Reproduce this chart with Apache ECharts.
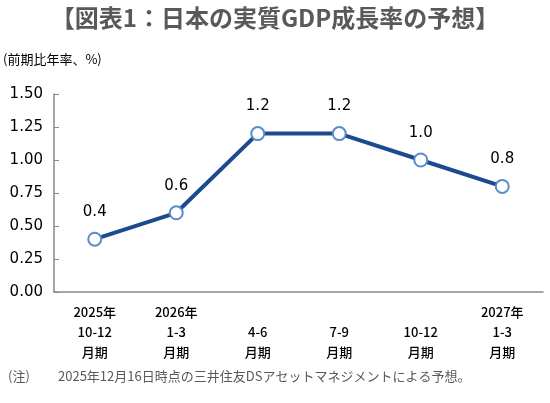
<!DOCTYPE html>
<html>
<head>
<meta charset="utf-8">
<script src="https://cdn.jsdelivr.net/npm/echarts@6/dist/echarts.min.js"></script>
<style>
html,body{margin:0;padding:0;background:#fff;}
#chart{width:550px;height:403px;}
</style>
</head>
<body>
<div id="chart"></div>
<script>
const years = ['2025年', '2026年', '', '', '', '2027年'];
const quarters = ['10-12', '1-3', '4-6', '7-9', '10-12', '1-3'];
const suffix = '月期';
const growth = [0.4, 0.6, 1.2, 1.2, 1.0, 0.8];
const yTicks = [0, 0.25, 0.5, 0.75, 1.0, 1.25, 1.5];

const FONT = '"DejaVu Sans", "Noto Sans CJK JP", sans-serif';
const JFONT = '"Noto Sans CJK JP", sans-serif';
const categories = years.map((y, i) => (y || ' ') + '\n' + quarters[i] + '\n' + suffix);

const chart = echarts.init(document.getElementById('chart'));
chart.setOption({
  animation: false,
  backgroundColor: '#fff',
  title: {
    text: '【図表1：日本の実質GDP成長率の予想】',
    left: 'center',
    top: 1,
    textStyle: { fontFamily: JFONT, fontSize: 24, fontWeight: 'bold', color: '#595959' }
  },
  graphic: [
    { type: 'text', left: 3, top: 53, style: { text: '(前期比年率、%)', fontFamily: JFONT, fontSize: 13, fill: '#000' } },
    { type: 'text', left: 8, top: 370, style: { text: '(注)', fontFamily: JFONT, fontSize: 13, fill: '#595959' } },
    { type: 'text', left: 58, top: 370, style: { text: '2025年12月16日時点の三井住友DSアセットマネジメントによる予想。', fontFamily: JFONT, fontSize: 13, fill: '#595959' } }
  ],
  grid: { left: 54, right: 7, top: 94, bottom: 111, containLabel: false },
  xAxis: {
    type: 'category',
    data: categories,
    boundaryGap: true,
    axisLine: { lineStyle: { color: '#888', width: 1.5 } },
    axisTick: { inside: true, length: 5, lineStyle: { color: '#888' } },
    axisLabel: { fontFamily: JFONT, fontSize: 13, fontWeight: 500, color: '#000', lineHeight: 20, margin: 10 }
  },
  yAxis: {
    type: 'value',
    min: yTicks[0],
    max: yTicks[yTicks.length - 1],
    interval: 0.25,
    axisLine: { show: true, lineStyle: { color: '#888', width: 1.5 } },
    axisTick: { show: true, inside: true, length: 5, lineStyle: { color: '#888' } },
    splitLine: { show: false },
    axisLabel: { fontFamily: FONT, fontSize: 15, color: '#000', margin: 11, formatter: v => v.toFixed(2) }
  },
  series: [{
    type: 'line',
    data: growth,
    symbol: 'circle',
    symbolSize: 13,
    lineStyle: { color: '#1C4A91', width: 4 },
    itemStyle: { color: '#fff', borderColor: '#5B8BC8', borderWidth: 2 },
    label: { show: true, position: 'top', distance: 12, fontFamily: FONT, fontSize: 15, color: '#000', formatter: p => p.value.toFixed(1) }
  }]
});
</script>
</body>
</html>
